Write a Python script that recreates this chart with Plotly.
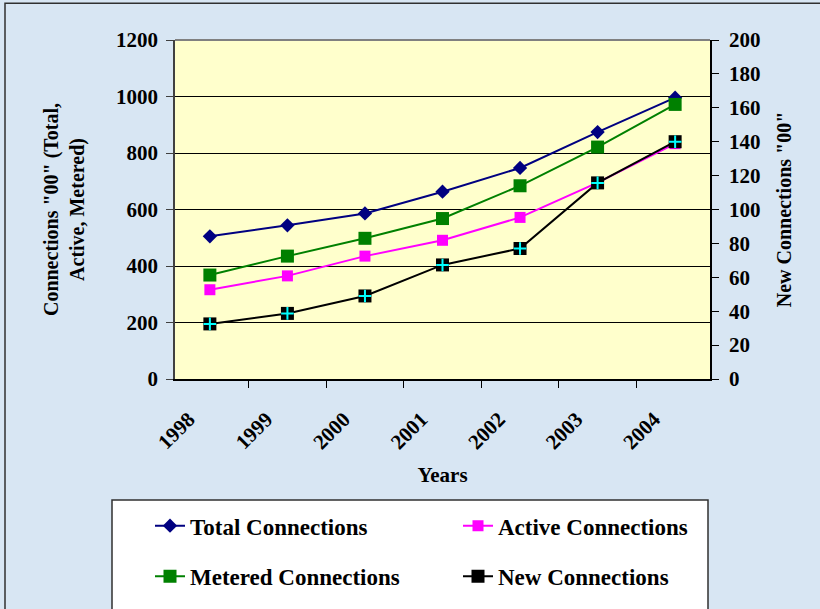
import plotly.graph_objects as go

years = ["1998", "1999", "2000", "2001", "2002", "2003", "2004"]
total_connections = [505, 544, 586, 663, 747, 874, 996]
active_connections = [316, 365, 435, 491, 572, 695, 833]
metered_connections = [368, 435, 498, 568, 684, 821, 972]
new_connections = [32.5, 38.7, 49, 67.3, 77, 115.7, 140]

left_ticks = [0, 200, 400, 600, 800, 1000, 1200]
right_ticks = [0, 20, 40, 60, 80, 100, 120, 140, 160, 180, 200]

FONT = "Liberation Serif, Times New Roman, serif"
W, H = 820, 609
ML, MR, MT, MB = 175, 110, 40, 227
PW = W - ML - MR
PH = H - MT - MB

def px_x(p):
    return (p - ML) / PW

def px_y(p):
    return (H - MB - p) / PH

fig = go.Figure()

fig.add_trace(go.Scatter(
    x=years, y=total_connections, name="<b>Total Connections</b>",
    mode="lines+markers",
    line=dict(color="#000080", width=2),
    marker=dict(symbol="diamond", size=11, color="#000080"),
    legend="legend",
))
fig.add_trace(go.Scatter(
    x=years, y=active_connections, name="<b>Active Connections</b>",
    mode="lines+markers",
    line=dict(color="#FF00FF", width=2),
    marker=dict(symbol="square", size=11, color="#FF00FF"),
    legend="legend",
))
fig.add_trace(go.Scatter(
    x=years, y=metered_connections, name="<b>Metered Connections</b>",
    mode="lines+markers",
    line=dict(color="#008000", width=2),
    marker=dict(symbol="square", size=13, color="#008000"),
    legend="legend2",
))
fig.add_trace(go.Scatter(
    x=years, y=new_connections, name="<b>New Connections</b>",
    mode="lines+markers", yaxis="y2",
    line=dict(color="#000000", width=2),
    marker=dict(symbol="square", size=13, color="#000000"),
    legend="legend2",
))
fig.add_trace(go.Scatter(
    x=years, y=new_connections, name="New Connections",
    mode="markers", yaxis="y2", showlegend=False, hoverinfo="skip",
    marker=dict(symbol="cross-thin", size=9, color="#00FFFF",
                line=dict(color="#00FFFF", width=2)),
))

tickfont = dict(family=FONT, size=21, color="black")
legfont = dict(family=FONT, size=23, color="black")

fig.update_layout(
    width=W, height=H,
    margin=dict(l=ML, r=MR, t=MT, b=MB),
    paper_bgcolor="#D8E6F3",
    plot_bgcolor="#FFFFCC",
    font=dict(family=FONT, color="black"),
    xaxis=dict(
        type="category", tickson="boundaries",
        ticks="outside", ticklen=7, tickcolor="black",
        showline=True, linecolor="black", linewidth=1.5,
        showgrid=False, tickangle=-45, ticklabelshift=-21, ticklabelstandoff=18,
        tickfont=tickfont,
        title=dict(text="<b>Years</b>", font=dict(family=FONT, size=21, color="black"), standoff=14),
        tickprefix="<b>", ticksuffix="</b>",
    ),
    yaxis=dict(
        range=[0, 1200], tickvals=left_ticks,
        ticktext=[f"<b>{v}</b>" for v in left_ticks],
        ticks="outside", ticklen=7, tickcolor="#404040",
        showline=True, linecolor="#404040", linewidth=1.5,
        showgrid=True, gridcolor="black", gridwidth=1,
        zeroline=False, ticklabelstandoff=4,
        tickfont=tickfont,
        title=dict(text="<b>Connections \"00\" (Total,<br>Active, Metered)</b>",
                   font=dict(family=FONT, size=20, color="black"), standoff=26),
    ),
    yaxis2=dict(
        range=[0, 200], tickvals=right_ticks,
        ticktext=[f"<b>{v}</b>" for v in right_ticks],
        overlaying="y", side="right",
        ticks="outside", ticklen=7, tickcolor="black",
        showline=True, linecolor="black", linewidth=1.5,
        showgrid=False, zeroline=False, ticklabelstandoff=6,
        tickfont=tickfont,
        title=dict(text="<b>New Connections \"00\"</b>",
                   font=dict(family=FONT, size=20, color="black"), standoff=18),
    ),
    legend=dict(
        orientation="h", x=px_x(150), xanchor="left", y=px_y(530), yanchor="middle",
        entrywidth=263, bgcolor="rgba(0,0,0,0)", font=legfont,
    ),
    legend2=dict(
        orientation="h", x=px_x(150), xanchor="left", y=px_y(581), yanchor="middle",
        entrywidth=263, bgcolor="rgba(0,0,0,0)", font=legfont,
    ),
    shapes=[
        dict(type="rect", xref="paper", yref="paper",
             x0=px_x(112), x1=px_x(708), y0=px_y(504), y1=px_y(615),
             fillcolor="white", line=dict(color="#303030", width=1.5), layer="below"),
        dict(type="line", xref="paper", yref="paper",
             x0=0, x1=1, y0=1, y1=1, line=dict(color="#808080", width=2), layer="above"),
        dict(type="rect", xref="paper", yref="paper",
             x0=px_x(5), x1=px_x(830), y0=px_y(3), y1=px_y(620),
             fillcolor="rgba(0,0,0,0)", line=dict(color="#303030", width=1.5), layer="below"),
    ],
)

fig.write_html("out.html")
